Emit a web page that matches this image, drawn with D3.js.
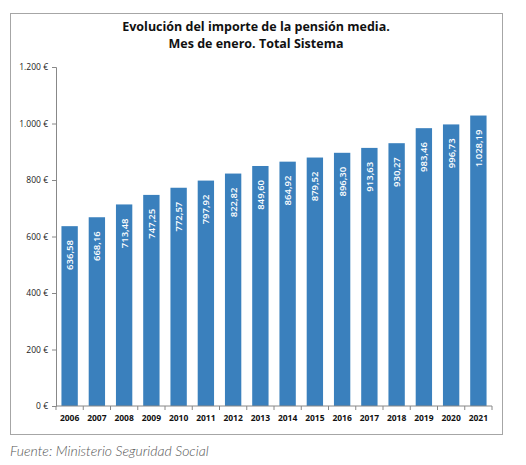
<!DOCTYPE html>
<html>
<head>
<meta charset="utf-8">
<script src="https://cdn.jsdelivr.net/npm/d3@7"></script>
<style>
  body { margin: 0; background: #fff; }
  svg text { font-family: "Open Sans", "Liberation Sans", sans-serif; }
</style>
</head>
<body>
<svg width="526" height="465"></svg>
<script>
// data
var years = ['2006','2007','2008','2009','2010','2011','2012','2013','2014','2015','2016','2017','2018','2019','2020','2021'];
var pension = [636.58, 668.16, 713.48, 747.25, 772.57, 797.92, 822.82, 849.60, 864.92, 879.52, 896.30, 913.63, 930.27, 983.46, 996.73, 1028.19];
var yTicks = [0, 200, 400, 600, 800, 1000, 1200];

var svg = d3.select('svg');
var plot = {l: 56, r: 492, t: 67, b: 406};

// frame
svg.append('rect')
    .attr('x', 10.5).attr('y', 13.5)
    .attr('width', 492).attr('height', 421)
    .attr('fill', 'none').attr('stroke', '#a6a6a6').attr('stroke-width', 1);

svg.append('text')
    .attr('x', 256).attr('y', 31)
    .attr('text-anchor', 'middle')
    .style('font-size', '12.5px').style('font-weight', 'bold').attr('fill', '#111')
    .text('Evolución del importe de la pensión media.');
svg.append('text')
    .attr('x', 256).attr('y', 48)
    .attr('text-anchor', 'middle')
    .style('font-size', '12.5px').style('font-weight', 'bold').attr('fill', '#111')
    .text('Mes de enero. Total Sistema');

var data = years.map(function(y, i) { return {year: y, value: pension[i]}; });

var x = d3.scaleBand().domain(years).range([plot.l, plot.r]).paddingInner(0.4).paddingOuter(0.2);
var y = d3.scaleLinear().domain([0, 1200]).range([plot.b, plot.t]);

var euro = function(d) { return d3.format(',')(d).replace(/,/g, '.') + ' €'; };
var label = function(v) {
    var s = v.toFixed(2).split('.');
    var ent = s[0].replace(/\B(?=(\d{3})+(?!\d))/g, '.');
    return ent + ',' + s[1];
};

// y axis
var yAxis = svg.append('g')
    .attr('transform', 'translate(' + plot.l + ',0)')
    .call(d3.axisLeft(y).tickValues(yTicks).tickSize(4).tickPadding(4).tickFormat(euro));
yAxis.select('.domain').attr('stroke', '#888');
yAxis.selectAll('.tick line').attr('stroke', '#888');
yAxis.selectAll('text').style('font-size', '8.5px').attr('fill', '#222');

// bars
svg.selectAll('.bar')
    .data(data)
    .enter()
    .append('rect')
    .attr('class', 'bar')
    .attr('x', function(d) { return x(d.year); })
    .attr('y', function(d) { return y(d.value); })
    .attr('width', x.bandwidth())
    .attr('height', function(d) { return y(0) - y(d.value); })
    .attr('fill', '#3a80bd');

// value labels
svg.selectAll('.val')
    .data(data)
    .enter()
    .append('text')
    .attr('class', 'val')
    .attr('transform', function(d) {
        return 'translate(' + (x(d.year) + x.bandwidth() / 2 + 3.5) + ',' + (y(d.value) + 14) + ') rotate(-90)';
    })
    .attr('text-anchor', 'end')
    .style('font-size', '9.5px').style('font-weight', '600')
    .attr('fill', '#fff')
    .text(function(d) { return label(d.value); });

// x axis
var xAxis = svg.append('g').attr('transform', 'translate(0,' + plot.b + ')');
xAxis.append('line')
    .attr('x1', plot.l).attr('x2', plot.r)
    .attr('stroke', '#888');
xAxis.selectAll('.tk')
    .data(d3.range(years.length + 1))
    .enter()
    .append('line')
    .attr('x1', function(i) { return plot.l + i * (plot.r - plot.l) / years.length; })
    .attr('x2', function(i) { return plot.l + i * (plot.r - plot.l) / years.length; })
    .attr('y1', 0).attr('y2', 4)
    .attr('stroke', '#888');
xAxis.selectAll('.yl')
    .data(years)
    .enter()
    .append('text')
    .attr('x', function(d) { return x(d) + x.bandwidth() / 2; })
    .attr('y', 15)
    .attr('text-anchor', 'middle')
    .style('font-size', '8.5px').style('font-weight', 'bold')
    .attr('fill', '#111')
    .text(function(d) { return d; });

// source
svg.append('text')
    .attr('x', 10).attr('y', 456)
    .style('font-family', 'Lato, sans-serif')
    .style('font-size', '14px').style('font-style', 'italic').style('font-weight', '300')
    .attr('fill', '#555')
    .text('Fuente: Ministerio Seguridad Social');
</script>
</body>
</html>
